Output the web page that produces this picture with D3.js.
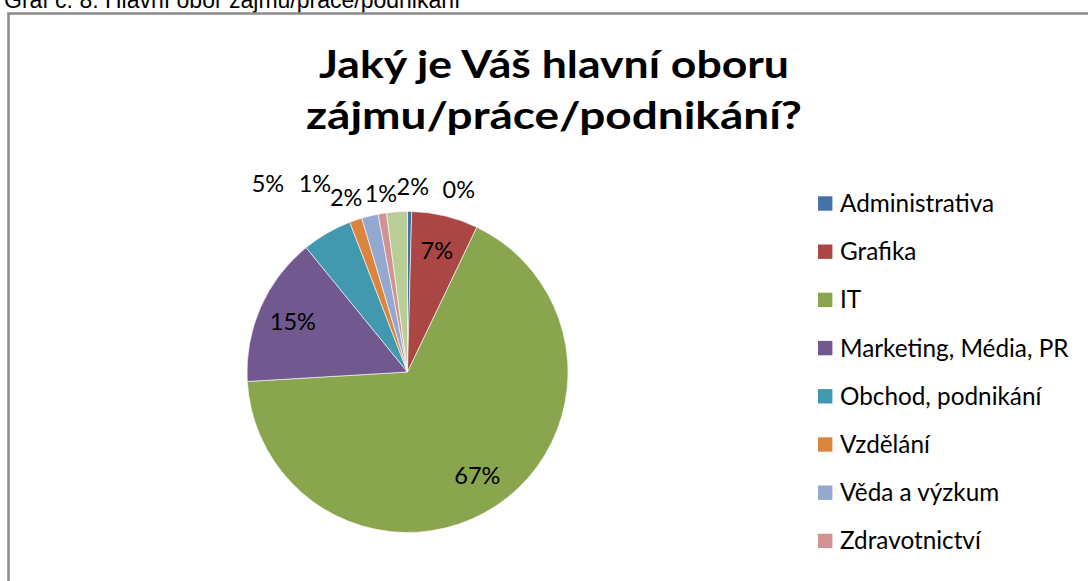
<!DOCTYPE html>
<html>
<head>
<meta charset="utf-8">
<script src="https://cdn.jsdelivr.net/npm/d3@7"></script>
<style>
  html, body { margin: 0; padding: 0; background: #fff; overflow: hidden; }
  svg { display: block; }
</style>
</head>
<body>
<svg id="chart" width="1088" height="581"></svg>
<script>
// ---- data ----
const caption = "Graf č. 8: Hlavní obor zájmu/práce/podnikání";
const titleLines = ["Jaký je Váš hlavní oboru", "zájmu/práce/podnikání?"];
const categories = ["Administrativa", "Grafika", "IT", "Marketing, Média, PR",
  "Obchod, podnikání", "Vzdělání", "Věda a výzkum", "Zdravotnictví", "Jiné"];
const counts = [1, 16, 160, 36, 12, 3, 4, 2, 5];
const colors = ["#4572A7", "#AA4643", "#89A54E", "#71588F", "#4198AF",
  "#DB843D", "#93A9CF", "#D19392", "#B9CD96"];

// ---- layout ----
const W = 1088, H = 581;
const cx = 407.5, cy = 372, R = 160.5;
// nudges for labels placed outside the pie (Excel best-fit look)
const outsideNudge = { 0: [49, -4], 4: [-50, -34], 5: [-35, -19.5], 6: [-19.5, -0.5], 7: [1.5, -2], 8: [17, -7.5] };
const labelFont = "Lato, 'Open Sans', sans-serif";

const svg = d3.select("#chart");

// caption (partly cut off at top)
svg.append("text")
  .attr("x", 4).attr("y", 8)
  .attr("font-family", "'Liberation Sans', Arial, sans-serif")
  .attr("font-size", 23)
  .attr("fill", "#000")
  .text(caption);

// frame
svg.append("rect")
  .attr("x", 8.5).attr("y", 13.5)
  .attr("width", 1200).attr("height", 700)
  .attr("fill", "#fff")
  .attr("stroke", "#8c8c8c")
  .attr("stroke-width", 2.5);

// title
const titleWidths = [470, 496];
titleLines.forEach((t, i) => {
  svg.append("text")
    .attr("x", 554).attr("y", 78 + i * 51)
    .attr("text-anchor", "middle")
    .attr("font-family", labelFont)
    .attr("font-weight", "bold")
    .attr("font-size", 38.5)
    .attr("textLength", titleWidths[i])
    .attr("lengthAdjust", "spacingAndGlyphs")
    .attr("fill", "#000")
    .text(t);
});

// pie
const total = d3.sum(counts);
const pie = d3.pie().sort(null).value(d => d)(counts);
const arc = d3.arc().innerRadius(0).outerRadius(R);
const g = svg.append("g").attr("transform", `translate(${cx},${cy})`);

g.selectAll("path.slice")
  .data(pie)
  .join("path")
  .attr("class", "slice")
  .attr("d", arc)
  .attr("fill", (d, i) => colors[i])
  .attr("stroke", "#fff")
  .attr("stroke-width", 0.6);

const inArc = d3.arc().innerRadius(R * 0.78).outerRadius(R * 0.78);
const outArc = d3.arc().innerRadius(R + 18).outerRadius(R + 18);
const fmt = d3.format(".0%");

g.selectAll("text.lbl")
  .data(pie)
  .join("text")
  .attr("class", "lbl")
  .attr("transform", (d, i) => {
    let p;
    if (outsideNudge[i]) {
      p = outArc.centroid(d);
      p = [p[0] + outsideNudge[i][0], p[1] + outsideNudge[i][1]];
    } else {
      p = inArc.centroid(d);
    }
    return `translate(${p[0]},${p[1]})`;
  })
  .attr("text-anchor", "middle")
  .attr("dy", "0.35em")
  .attr("font-family", labelFont)
  .attr("font-size", 23.5)
  .attr("fill", "#000")
  .text(d => fmt(d.value / total));

// legend (like Excel, entries that do not fit the chart area are dropped)
const legTop = 203.5, legStep = 48.2, legBottomLimit = H - 20;
const legY = d3.scalePoint().domain(categories).range([0, legStep * (categories.length - 1)]);
const shown = categories.filter(c => legTop + legY(c) + 12 < legBottomLimit);
const leg = svg.append("g").attr("transform", `translate(818,${legTop})`);
const items = leg.selectAll("g.item")
  .data(shown)
  .join("g")
  .attr("class", "item")
  .attr("transform", d => `translate(0,${legY(d)})`);
items.append("rect")
  .attr("x", 0).attr("y", -7.2)
  .attr("width", 14.4).attr("height", 14.4)
  .attr("fill", d => colors[categories.indexOf(d)]);
items.append("text")
  .attr("x", 22).attr("dy", "0.35em")
  .attr("font-family", labelFont)
  .attr("font-size", 24.3)
  .attr("fill", "#000")
  .text(d => d);
</script>
</body>
</html>
